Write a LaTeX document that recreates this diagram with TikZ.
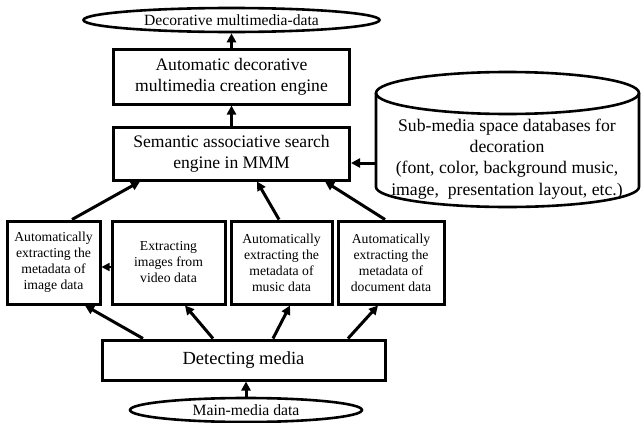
\documentclass[tikz,border=0pt]{standalone}
\usepackage{fontspec}
\setmainfont{Liberation Serif}
\usetikzlibrary{arrows.meta,shapes.geometric}
\begin{document}
\begin{tikzpicture}[x=1pt,y=-1pt,
  box/.style={draw,line width=3pt,align=center,inner sep=1pt},
  bigbox/.style={box,minimum width=236,font=\fontsize{17.6}{21}\selectfont},
  smallbox/.style={box,minimum height=83,font=\fontsize{13.7}{16}\selectfont},
  oval/.style={draw,line width=2.6pt,ellipse,inner sep=0pt,font=\fontsize{15.6}{18}\selectfont},
  arr/.style={line width=3pt,-{Triangle[length=9pt,width=9pt]}},
  thinarr/.style={line width=1.5pt,-{Triangle[length=8pt,width=8pt]}}
]
\useasboundingbox (0,0) rectangle (641,423);
% top ellipse
\node[oval,minimum width=296,minimum height=24] (out) at (231.5,20) {Decorative multimedia-data};
\node[bigbox,minimum height=55] (create) at (231.5,76.5) {Automatic decorative\\multimedia creation engine};
\node[bigbox,minimum height=53] (sem) at (231.5,153.5) {Semantic associative search\\engine in MMM};
% cylinder
\draw[line width=2.6pt] (507.5,93) ellipse [x radius=131.5, y radius=21];
\draw[line width=2.6pt] (376,93) -- (376,187) arc[start angle=180,end angle=0,x radius=131.5,y radius=20] -- (639,93);
\node[align=center,font=\fontsize{17.7}{21.3}\selectfont] (cyltext) at (507,159) {Sub-media space databases for\\decoration\\(font, color, background music,\\image,~ presentation layout, etc.)};
\coordinate (cylL) at (376,163);
% small boxes
\node[smallbox,minimum width=93] (img) at (53.5,262.5) {Automatically\\extracting the\\metadata of\\image data};
\node[smallbox,minimum width=113] (vid) at (168.5,262.5) {Extracting\\images from\\video data};
\node[smallbox,minimum width=101] (mus) at (281.5,262.5) {Automatically\\extracting the\\metadata of\\music data};
\node[smallbox,minimum width=106] (doc) at (391,262.5) {Automatically\\extracting the\\metadata of\\document data};
% detecting media
\node[box,minimum width=283,minimum height=40,font=\fontsize{18.5}{22}\selectfont] (det) at (243.5,360) {Detecting media};
\node[oval,minimum width=232,minimum height=24,font=\fontsize{15.7}{18}\selectfont] (main) at (246,410) {Main-media data};
% arrows
\draw[arr] (create.north) -- (out.south);
\draw[arr] (sem.north) -- (create.south);
\draw[arr] (cylL) -- (sem.east |- cylL);
\draw[arr] ([xshift=18.5]img.north) -- ([xshift=-91.5]sem.south);
\draw[arr] ([xshift=-2.5]mus.north) -- ([xshift=25.5]sem.south);
\draw[arr] ([xshift=-6]doc.north) -- ([xshift=93.5]sem.south);
\draw[thinarr] ([yshift=-4.5]vid.west) -- ([yshift=-4.5]img.east);
\draw[arr] ([xshift=-100.5]det.north) -- ([xshift=31.5]img.south);
\draw[arr] ([xshift=-30.5]det.north) -- ([xshift=16.5]vid.south);
\draw[arr] ([xshift=29.5]det.north) -- ([xshift=8.5]mus.south);
\draw[arr] ([xshift=104.5]det.north) -- ([xshift=-13]doc.south);
\draw[arr] (main.north) -- (main.north |- det.south);
\end{tikzpicture}
\end{document}
